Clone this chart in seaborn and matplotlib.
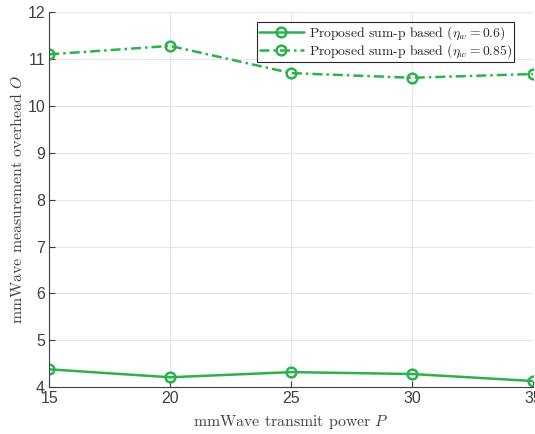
import matplotlib
matplotlib.use("Agg")
import matplotlib.pyplot as plt
import pandas as pd
import seaborn as sns

power = [15, 20, 25, 30, 35]
overhead_06 = [4.38, 4.21, 4.32, 4.28, 4.13]
overhead_085 = [11.1, 11.28, 10.7, 10.6, 10.68]

df = pd.DataFrame({"P": power * 2,
                   "O": overhead_06 + overhead_085,
                   "eta": ["0.6"] * 5 + ["0.85"] * 5})

sns.set_style("whitegrid")
plt.rcParams["font.family"] = ["Liberation Sans", "DejaVu Sans"]
plt.rcParams["mathtext.fontset"] = "cm"

green = "#2bb24c"
fig, ax = plt.subplots(figsize=(5.35, 4.34), dpi=100)
sns.lineplot(data=df[df.eta == "0.6"], x="P", y="O", ax=ax, color=green, lw=1.8,
             marker="o", markersize=7, markerfacecolor="none", markeredgecolor=green,
             markeredgewidth=1.8, label=r"Proposed sum-p based ($\eta_w = 0.6$)")
sns.lineplot(data=df[df.eta == "0.85"], x="P", y="O", ax=ax, color=green, lw=1.8,
             linestyle=(0, (4, 1.6, 1, 1.6)), marker="o", markersize=7,
             markerfacecolor="none", markeredgecolor=green, markeredgewidth=1.8,
             label=r"Proposed sum-p based ($\eta_w = 0.85$)")

ax.set_xlim(15, 35)
ax.set_ylim(4, 12)
ax.set_xticks(power)
ax.set_yticks(range(4, 13))
ax.grid(True, color="#e6e6e6", lw=0.8)
for s in ["top", "right"]:
    ax.spines[s].set_visible(False)
for s in ["left", "bottom"]:
    ax.spines[s].set_color("#404040")
    ax.spines[s].set_linewidth(0.8)
ax.tick_params(axis="both", labelsize=11.5, colors="#404040", direction="in", length=4,
               left=True, bottom=True, pad=3)
ax.set_xlabel("mmWave transmit power $P$", fontsize=11.4, fontname="cmr10",
              color="#404040", labelpad=5)
ax.set_ylabel("mmWave measurement overhead $O$", fontsize=11.4, fontname="cmr10",
              color="#404040", labelpad=2)
leg = ax.legend(loc="upper right", bbox_to_anchor=(0.962, 0.973), frameon=True,
                fancybox=False, edgecolor="#262626", framealpha=1, borderpad=0.15,
                labelspacing=0.0, handlelength=3.3, handletextpad=0.4, borderaxespad=0,
                prop={"family": "cmr10", "size": 9.8})
leg.get_frame().set_linewidth(0.8)
for t in leg.get_texts():
    t.set_color("#262626")

fig.subplots_adjust(left=0.092, right=0.996, top=0.972, bottom=0.108)
fig.savefig("out.png", dpi=100)
